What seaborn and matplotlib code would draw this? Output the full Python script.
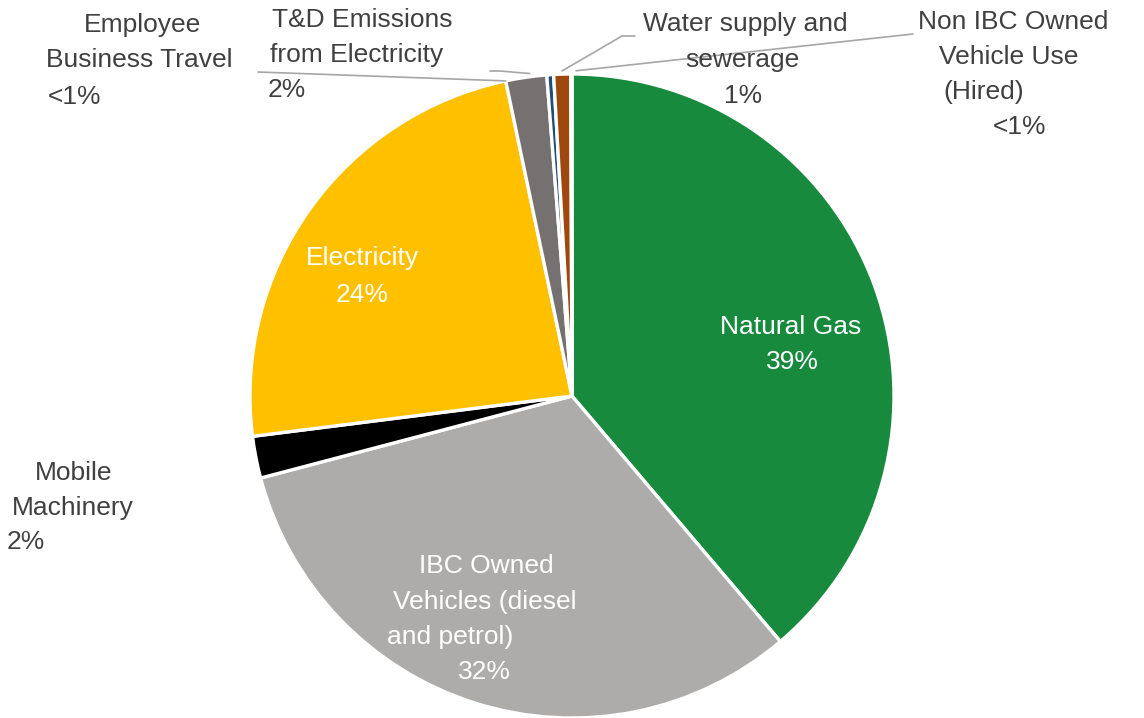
import matplotlib
matplotlib.use("Agg")
import matplotlib.pyplot as plt
import seaborn as sns
import numpy as np

# ---- data ----
categories = ["Natural Gas", "IBC Owned Vehicles (diesel and petrol)", "Mobile Machinery",
              "Electricity", "T&D Emissions from Electricity", "Employee Business Travel",
              "Water supply and sewerage", "Non IBC Owned Vehicle Use (Hired)"]
values = [38.8, 32.1, 2.1, 23.7, 2.05, 0.34, 0.85, 0.06]
pct_labels = ["39%", "32%", "2%", "24%", "2%", "<1%", "1%", "<1%"]
colors = ["#178A3E", "#AEABAB", "#000000", "#FFC000", "#767171", "#1F4E79", "#9E480E", "#5B9BD5"]

sns.set_theme(style="white")
plt.rcParams['font.family'] = ['Liberation Sans', 'DejaVu Sans']

W, H = 1144, 718
fig = plt.figure(figsize=(W / 100, H / 100), dpi=100)
ax = fig.add_axes([0, 0, 1, 1])
cx, cy, R = 572, H - 396, 322
wedges, _ = ax.pie(values, colors=colors, startangle=90, counterclock=False,
                   center=(cx, cy), radius=R,
                   wedgeprops=dict(edgecolor="white", linewidth=2.4))
ax.set_xlim(0, W)
ax.set_ylim(0, H)
ax.set_aspect("equal")
ax.axis("off")

FS = 19
DARK = "#404040"

def lines(items, color=DARK):
    # items: (text, x, y_img, ha)
    for t, x, y, ha in items:
        ax.text(x, H - y, t, ha=ha, va="center", fontsize=FS, color=color)

# inside labels
lines([(categories[0], 791, 327, "center"), (pct_labels[0], 792, 362, "center")], "white")
lines([(categories[3], 362, 258, "center"), (pct_labels[3], 362, 295, "center")], "white")
lines([("IBC Owned", 486, 566, "center"), ("Vehicles (diesel", 485, 602, "center"),
       ("and petrol)", 387, 637, "left"), (pct_labels[1], 484, 672, "center")], "white")

# outside labels
lines([("Mobile", 74, 473, "center"), ("Machinery", 73, 508, "center"), (pct_labels[2], 7, 542, "left")])
lines([("Employee", 142, 25, "center"), ("Business Travel", 139, 60, "center"), (pct_labels[5], 48, 97, "left")])
lines([("T&D Emissions", 362, 20, "center"), ("from Electricity", 357, 55, "center"), (pct_labels[4], 268, 90, "left")])
lines([("Water supply and", 745, 24, "center"), ("sewerage", 742, 60, "center"), (pct_labels[6], 743, 96, "center")])
lines([("Non IBC Owned", 1013, 22, "center"), ("Vehicle Use", 1009, 57, "center"),
       ("(Hired)", 943, 92, "left"), (pct_labels[7], 1019, 127, "center")])

# leader lines, ending on the wedges
def edge_point(w, frac, rr=1.01):
    a = np.deg2rad(w.theta1 + (w.theta2 - w.theta1) * frac)
    return cx + R * rr * np.cos(a), cy + R * rr * np.sin(a)

LC = "#A6A6A6"
ex, ey = edge_point(wedges[4], 1.0, 1.0)
ax.plot([258, ex], [H - 72, ey], color=LC, lw=1.2)
tx, ty = edge_point(wedges[4], 0.4, 1.01)
ax.plot([490, 500, tx], [H - 71, H - 71, ty], color=LC, lw=1.2)
wx, wy = edge_point(wedges[6], 0.5, 1.01)
ax.plot([635, 622, wx], [H - 36, H - 36, wy], color=LC, lw=1.2)
nx, ny = edge_point(wedges[0], 0.995, 1.01)
ax.plot([913, nx], [H - 34, ny], color=LC, lw=1.2)

fig.savefig("out.png", dpi=100, facecolor="white")
